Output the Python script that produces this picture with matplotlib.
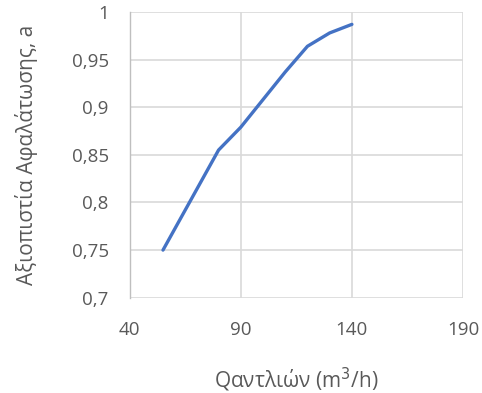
import matplotlib
matplotlib.use("Agg")
import matplotlib.pyplot as plt

flow = [55, 80, 90, 100, 110, 120, 130, 140]
efficiency = [0.75, 0.855, 0.879, 0.908, 0.937, 0.964, 0.978, 0.987]
xticks = [40, 90, 140, 190]
yticks = [0.7, 0.75, 0.8, 0.85, 0.9, 0.95, 1.0]
ytick_labels = ["0,7", "0,75", "0,8", "0,85", "0,9", "0,95", "1"]

plt.rcParams['font.family'] = ['Open Sans', 'DejaVu Sans']

fig = plt.figure(figsize=(4.82, 3.93), dpi=100)
ax = fig.add_axes([0.269, 0.2425, 0.6916, 0.727])
ax.plot(flow, efficiency, color='#4472C4', lw=2.4, solid_capstyle='round', solid_joinstyle='round', zorder=3)
ax.set_xlim(40, 190)
ax.set_ylim(0.7, 1.0)
ax.set_xticks(xticks)
ax.set_xticklabels([str(t) for t in xticks])
ax.set_yticks(yticks)
ax.set_yticklabels(ytick_labels)
ax.grid(True, color='#d9d9d9', lw=1.2)
ax.set_axisbelow(True)
for s in ['top', 'right', 'bottom']:
    ax.spines[s].set_visible(False)
ax.spines['left'].set_color('#bfbfbf')
ax.spines['left'].set_linewidth(1.0)
ax.tick_params(length=0, labelsize=13.5, colors='#595959')
ax.tick_params(axis='y', pad=15)
ax.tick_params(axis='x', pad=17)
ax.set_xlabel('Qαντλιών (m$^3$/h)', fontsize=15, color='#595959', labelpad=19)
ax.set_ylabel('Αξιοπιστία Αφαλάτωσης, a', fontsize=15, color='#595959', labelpad=24)
fig.savefig('out.png', dpi=100)
